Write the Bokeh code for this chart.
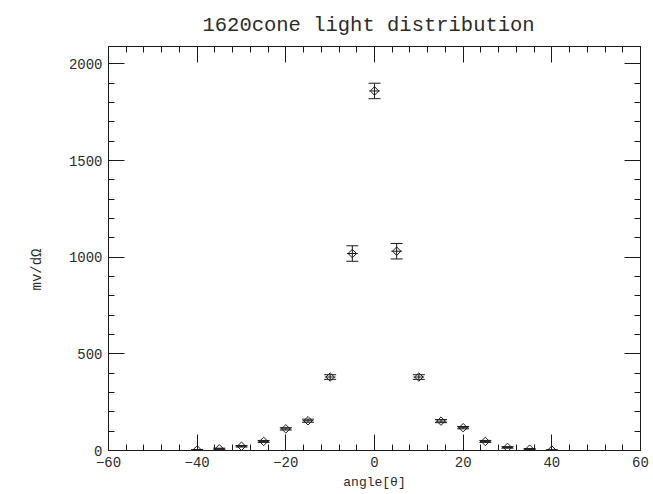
import numpy as np
from bokeh.plotting import figure
from bokeh.models import (ColumnDataSource, Range1d, LinearAxis, SingleIntervalTicker,
                          Whisker, TeeHead, Title)
from bokeh.embed import file_html
from bokeh.resources import INLINE

# Measured light yield per solid angle versus angle
angles = [-40, -35, -30, -25, -20, -15, -10, -5, 0, 5, 10, 15, 20, 25, 30, 35, 40]
signal = [3, 9, 22, 47, 112, 154, 380, 1019, 1860, 1031, 380, 152, 118, 47, 16, 7, 2]
signal_err = [2, 3, 4, 5, 6, 8, 12, 40, 40, 40, 12, 8, 6, 5, 4, 3, 2]
angle_err = [1.2] * len(angles)

title_text = "1620cone light distribution"
x_label = "angle[θ]"
y_label = "mv/dΩ"

FONT = "Liberation Mono"
INK = "#1a1a1a"
TEXT_INK = "#2b2b2b"

src = ColumnDataSource(dict(
    angle=angles,
    signal=signal,
    lower=[s - e for s, e in zip(signal, signal_err)],
    upper=[s + e for s, e in zip(signal, signal_err)],
    left=[a - e for a, e in zip(angles, angle_err)],
    right=[a + e for a, e in zip(angles, angle_err)],
))

p = figure(width=653, height=494, x_range=Range1d(-60, 60), y_range=Range1d(0, 2090),
           output_backend="svg", toolbar_location=None,
           x_axis_type=None, y_axis_type=None,
           min_border_left=108, min_border_right=13, min_border_top=46, min_border_bottom=44,
           background_fill_color="white", border_fill_color="white")
p.outline_line_color = None
p.xgrid.visible = False
p.ygrid.visible = False

p.title.text = title_text
p.title.align = "left"
p.title.offset = 94
p.title.text_font = FONT
p.title.text_font_size = "20.5px"
p.title.text_font_style = "normal"
p.title.text_color = TEXT_INK
p.title.standoff = 19


def style_axis(ax, show_labels):
    ax.axis_line_color = INK
    ax.axis_line_width = 1
    ax.major_tick_line_color = INK
    ax.minor_tick_line_color = INK
    ax.major_tick_in = 16
    ax.major_tick_out = 0
    ax.minor_tick_in = 6
    ax.minor_tick_out = 0
    ax.major_label_text_font = FONT
    ax.major_label_text_font_size = "14px"
    ax.major_label_text_color = TEXT_INK
    ax.major_label_standoff = 6
    if not show_labels:
        ax.major_label_text_font_size = "0px"
        ax.major_label_text_color = None
        ax.major_label_standoff = 0


def x_ticker():
    return SingleIntervalTicker(interval=20, num_minor_ticks=5)


def y_ticker():
    return SingleIntervalTicker(interval=500, num_minor_ticks=5)


xb = LinearAxis(ticker=x_ticker(), axis_label=x_label)
style_axis(xb, True)
xb.axis_label_text_font = FONT
xb.axis_label_text_font_style = "normal"
xb.axis_label_text_color = TEXT_INK
xb.axis_label_text_font_size = "13px"
xb.axis_label_standoff = 5
p.add_layout(xb, "below")

xt = LinearAxis(ticker=x_ticker())
style_axis(xt, False)
p.add_layout(xt, "above")

yl = LinearAxis(ticker=y_ticker())
style_axis(yl, True)
p.add_layout(yl, "left")

yr = LinearAxis(ticker=y_ticker())
style_axis(yr, False)
p.add_layout(yr, "right")

# y-axis title as a side title, started from the bottom of the frame
ytitle = Title(text=y_label, align="left", offset=160, standoff=42,
               text_font=FONT, text_font_size="14px", text_font_style="normal",
               text_color=TEXT_INK)
p.add_layout(ytitle, "left")

# vertical error bars with caps
p.add_layout(Whisker(source=src, base="angle", lower="lower", upper="upper",
                     dimension="height", line_color=INK, line_width=1,
                     upper_head=TeeHead(size=12, line_color=INK, line_width=1),
                     lower_head=TeeHead(size=12, line_color=INK, line_width=1)))

# horizontal error bars
p.segment(x0="left", y0="signal", x1="right", y1="signal", source=src,
          line_color=INK, line_width=1)

# open diamond markers
p.scatter("angle", "signal", source=src, marker="square", angle=np.pi / 4, size=6,
          fill_color=None, line_color=INK, line_width=1)

open("out.html", "w").write(file_html(p, INLINE))
